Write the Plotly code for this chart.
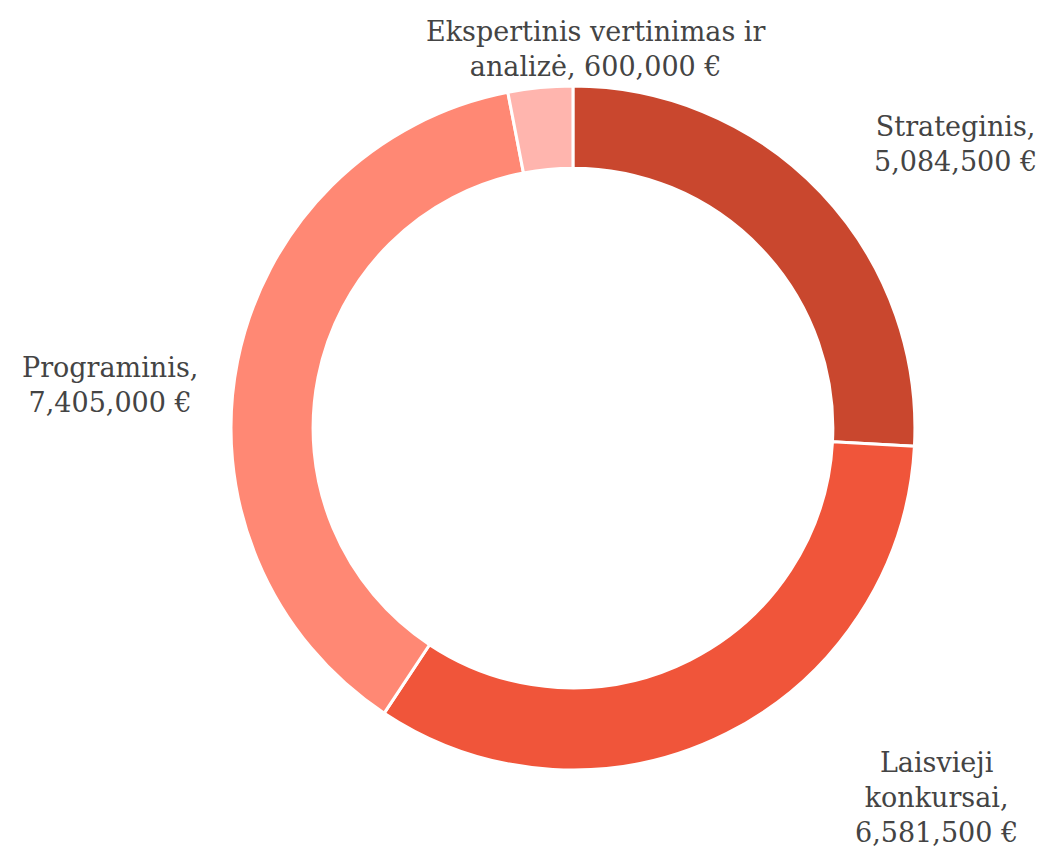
import plotly.graph_objects as go

labels = ["Strateginis", "Laisvieji<br>konkursai", "Programinis", "Ekspertinis vertinimas ir<br>analizė"]
values = [5084500, 6581500, 7405000, 600000]
colors = ["#c9472e", "#f0553a", "#ff8874", "#ffb5ae"]
# separator between label and value in each annotation
separators = [",<br>", ",<br>", ",<br>", ", "]

# layout: label centres (paper coordinates)
label_pos = [(0.908, 0.840), (0.889, 0.071), (0.098, 0.556), (0.563, 0.952)]

fig = go.Figure(go.Pie(
    labels=labels,
    values=values,
    hole=0.76,
    sort=False,
    direction="clockwise",
    rotation=0,
    marker=dict(colors=colors, line=dict(color="white", width=3)),
    textinfo="none",
    domain=dict(x=[0.2136, 0.8687], y=[0.1035, 0.9082]),
    showlegend=False,
    hovertemplate="%{label}: %{value:,.0f} €<extra></extra>",
))

for lab, val, sep, (px, py) in zip(labels, values, separators, label_pos):
    fig.add_annotation(
        x=px, y=py, xref="paper", yref="paper",
        xanchor="center", yanchor="middle", align="center",
        text=f"{lab}{sep}{val:,.0f} €",
        showarrow=False,
        font=dict(family="DejaVu Serif", size=27, color="#444444"),
    )

fig.update_layout(
    width=1044, height=850,
    margin=dict(l=0, r=0, t=0, b=0),
    paper_bgcolor="white",
)
fig.write_html("out.html")
